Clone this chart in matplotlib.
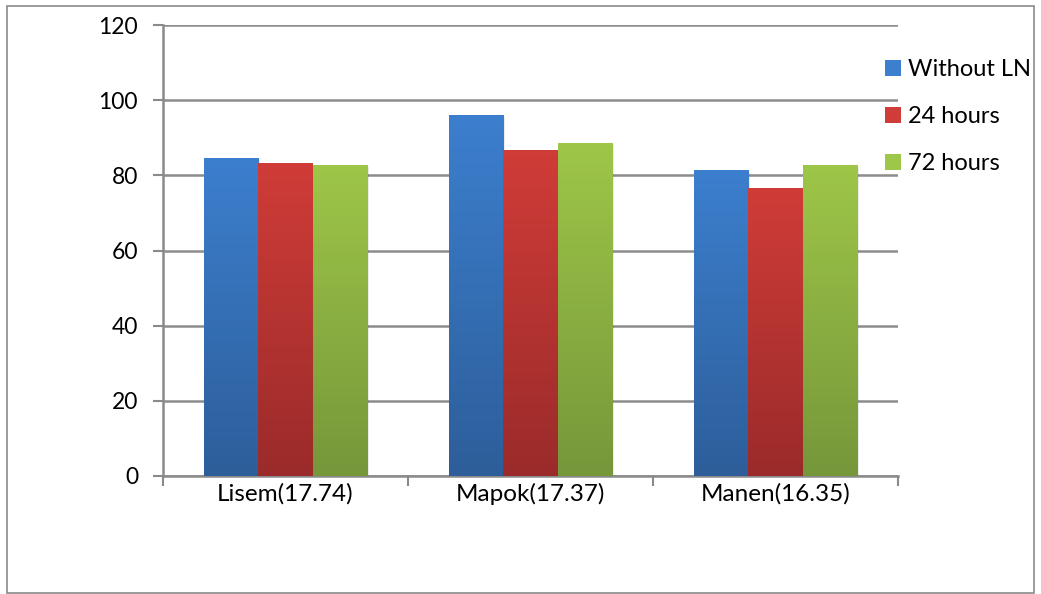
import matplotlib
matplotlib.use('Agg')
import matplotlib.pyplot as plt
import numpy as np
from matplotlib.colors import LinearSegmentedColormap
from matplotlib.patches import Rectangle

# data
categories = ['Lisem(17.74)', 'Mapok(17.37)', 'Manen(16.35)']
series_names = ['Without LN', '24 hours', '72 hours']
without_ln = [84.6, 96.1, 81.4]
hours_24 = [83.3, 86.7, 76.6]
hours_72 = [82.8, 88.6, 82.8]
yticks = [0, 20, 40, 60, 80, 100, 120]

# (top colour, bottom colour) for the gradient fills
colors = [('#3c7fce', '#2d5e9a'), ('#d03c38', '#9a2b2a'), ('#9ec648', '#76973a')]

plt.rcParams['font.family'] = ['Lato', 'DejaVu Sans']

fig = plt.figure(figsize=(10.41, 5.94), dpi=100)
ax = fig.add_axes([163 / 1041, 1 - 476 / 594, (898 - 163) / 1041, (476 - 25) / 594])

# outer chart border
fig.patches.append(Rectangle((7 / 1041, 1 - 593 / 594), 1027 / 1041, 587 / 594,
                             transform=fig.transFigure, fill=False,
                             edgecolor='#8a8a8a', linewidth=1.2))

x = np.arange(len(categories))
w = 0.223
grad = np.linspace(1, 0, 256).reshape(-1, 1)
for i, (vals, name, (ctop, cbot)) in enumerate(zip([without_ln, hours_24, hours_72], series_names, colors)):
    pos = x + (i - 1) * w
    cmap = LinearSegmentedColormap.from_list(name, [cbot, ctop])
    # soft shadow
    ax.bar(pos + 0.008, vals, w, bottom=-0.6, color='#000000', alpha=0.08, zorder=2, linewidth=0)
    bars = ax.bar(pos, vals, w, color=ctop, label=name, zorder=3, linewidth=0)
    for b in bars:
        im = ax.imshow(grad, cmap=cmap, aspect='auto', zorder=3.5,
                       extent=[b.get_x(), b.get_x() + b.get_width(), 0, b.get_height()])
        im.set_clip_path(b)

ax.set_xlim(-0.5, 2.5)
ax.set_ylim(0, 120)
ax.set_yticks(yticks)
ax.set_xticks(x)
ax.set_xticklabels(categories)
ax.set_xticks([-0.5, 0.5, 1.5, 2.5], minor=True)
ax.tick_params(axis='x', which='major', length=0, pad=5, labelsize=17.5)
ax.tick_params(axis='x', which='minor', length=7, width=1.5, color='#8a8a8a')
ax.tick_params(axis='y', length=7, width=1.5, color='#8a8a8a', labelsize=16.5, pad=11)

ax.grid(axis='y', color='#8c8c8c', linewidth=1.8, zorder=1)
ax.set_axisbelow(True)
for s in ['top', 'right']:
    ax.spines[s].set_visible(False)
for s in ['left', 'bottom']:
    ax.spines[s].set_color('#8a8a8a')
    ax.spines[s].set_linewidth(1.8)

leg = ax.legend(loc='upper left', bbox_to_anchor=(0.97, 0.945), frameon=False,
                fontsize=17, handlelength=0.65, handleheight=0.65, handletextpad=0.3,
                labelspacing=1.1, borderaxespad=0)

fig.savefig('out.png', dpi=100)
